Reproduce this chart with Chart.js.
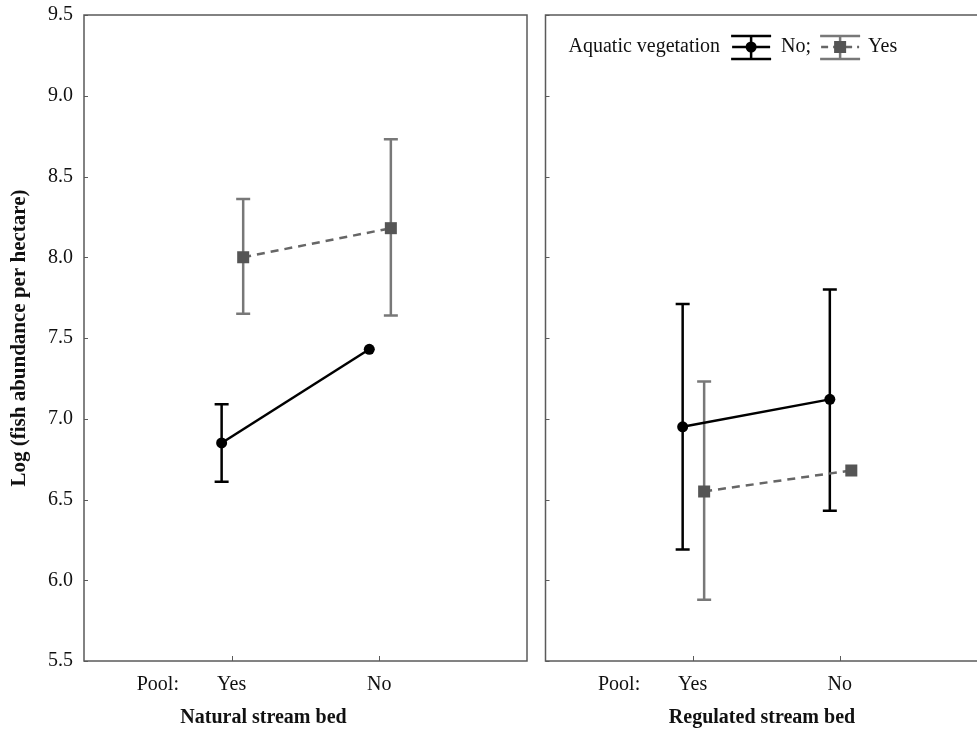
<!DOCTYPE html>
<html>
<head>
<meta charset="utf-8">
<script src="https://cdn.jsdelivr.net/npm/chart.js@4.4.1/dist/chart.umd.min.js"></script>
<style>
  html, body { margin: 0; padding: 0; background: #fff; overflow: hidden; }
  #wrap { position: relative; width: 977px; height: 735px; overflow: hidden; }
  #naturalChart { position: absolute; left: 0; top: 0; }
  #regulatedChart { position: absolute; left: 537px; top: 0; }
</style>
</head>
<body>
<div id="wrap">
  <canvas id="naturalChart" width="537" height="735"></canvas>
  <canvas id="regulatedChart" width="460" height="735"></canvas>
</div>
<script>
// categories / labels
const xTickValues = [0.5, 1, 2];
const xTickLabels = ['Pool:', 'Yes', 'No'];
const panelTitles = ['Natural stream bed', 'Regulated stream bed'];
const yAxisTitle = 'Log (fish abundance per hectare)';
const legendTitle = 'Aquatic vegetation';
const legendLabels = ['No', 'Yes'];

// Natural stream bed (pool Yes, pool No)
const natNoVegMean = [6.85, 7.43];
const natNoVegLow = [6.61, null];
const natNoVegHigh = [7.09, null];
const natVegMean = [8.00, 8.18];
const natVegLow = [7.65, 7.64];
const natVegHigh = [8.36, 8.73];

// Regulated stream bed (pool Yes, pool No)
const regNoVegMean = [6.95, 7.12];
const regNoVegLow = [6.19, 6.43];
const regNoVegHigh = [7.71, 7.80];
const regVegMean = [6.55, 6.68];
const regVegLow = [5.88, null];
const regVegHigh = [7.23, null];

const serif = '"Liberation Serif", "Times New Roman", serif';
Chart.defaults.font.family = serif;
Chart.defaults.color = '#111';

const dodgeNo = -0.068;
const dodgeYes = 0.078;
const grayBar = '#787878';

// error bars drawn under the lines
const errorBars = {
    id: 'errorBars',
    beforeDatasetsDraw(chart) {
        const { ctx, scales: { x, y } } = chart;
        chart.data.datasets.forEach(ds => {
            ctx.save();
            ctx.strokeStyle = ds.barColor;
            ctx.lineWidth = 2.5;
            ds.data.forEach((p, j) => {
                if (ds.low[j] == null) return;
                const px = x.getPixelForValue(p.x);
                const y1 = y.getPixelForValue(ds.low[j]);
                const y2 = y.getPixelForValue(ds.high[j]);
                ctx.beginPath();
                ctx.moveTo(px, y1); ctx.lineTo(px, y2);
                ctx.moveTo(px - 7, y1); ctx.lineTo(px + 7, y1);
                ctx.moveTo(px - 7, y2); ctx.lineTo(px + 7, y2);
                ctx.stroke();
            });
            ctx.restore();
        });
    }
};

// box frame + small inward tick marks
const frame = {
    id: 'frame',
    afterDraw(chart) {
        const { ctx, chartArea: a, scales: { x, y } } = chart;
        ctx.save();
        ctx.strokeStyle = '#5a5a5a';
        ctx.lineWidth = 1;
        ctx.beginPath();
        y.ticks.forEach(t => {
            const py = Math.round(y.getPixelForValue(t.value)) + 0.5;
            ctx.moveTo(a.left, py); ctx.lineTo(a.left + 4, py);
        });
        x.ticks.forEach(t => {
            if (t.label === 'Pool:') return;
            const px = Math.round(x.getPixelForValue(t.value)) + 0.5;
            ctx.moveTo(px, a.bottom); ctx.lineTo(px, a.bottom - 5);
        });
        ctx.stroke();
        ctx.lineWidth = 1.5;
        ctx.strokeRect(a.left, a.top, a.right - a.left, a.bottom - a.top);
        ctx.restore();
    }
};

function legendSymbol(ctx, x, cy, gray) {
    ctx.save();
    ctx.strokeStyle = gray ? grayBar : '#000';
    ctx.lineWidth = 2.5;
    ctx.beginPath();
    ctx.moveTo(x, cy - 11); ctx.lineTo(x + 40, cy - 11);
    ctx.moveTo(x, cy + 12); ctx.lineTo(x + 40, cy + 12);
    ctx.moveTo(x + 20, cy - 11); ctx.lineTo(x + 20, cy + 12);
    ctx.stroke();
    ctx.beginPath();
    if (gray) {
        ctx.strokeStyle = '#666';
        ctx.setLineDash([7, 5]);
    }
    ctx.moveTo(x + 1, cy); ctx.lineTo(x + 39, cy);
    ctx.stroke();
    ctx.setLineDash([]);
    if (gray) {
        ctx.fillStyle = '#555';
        ctx.fillRect(x + 14, cy - 6, 12, 12);
    } else {
        ctx.fillStyle = '#000';
        ctx.beginPath();
        ctx.arc(x + 20, cy, 5.5, 0, Math.PI * 2);
        ctx.fill();
    }
    ctx.restore();
}

const vegLegend = {
    id: 'vegLegend',
    afterDraw(chart) {
        const { ctx, chartArea: a } = chart;
        ctx.save();
        ctx.font = '20px ' + serif;
        ctx.fillStyle = '#111';
        ctx.textBaseline = 'middle';
        const cy = a.top + 32;
        let x = a.left + 23;
        ctx.fillText(legendTitle, x, cy);
        x += ctx.measureText(legendTitle).width + 11;
        legendSymbol(ctx, x, cy, false);
        x += 50;
        const noText = legendLabels[0] + ';';
        ctx.fillText(noText, x, cy);
        x += ctx.measureText(noText).width + 9;
        legendSymbol(ctx, x, cy, true);
        x += 48;
        ctx.fillText(legendLabels[1], x, cy);
        ctx.restore();
    }
};

function makeDatasets(noMean, noLow, noHigh, yesMean, yesLow, yesHigh) {
    return [
        {
            label: legendLabels[0],
            data: noMean.map((v, j) => ({ x: j + 1 + dodgeNo, y: v })),
            low: noLow,
            high: noHigh,
            barColor: '#000',
            showLine: true,
            borderColor: '#000',
            borderWidth: 2.5,
            pointStyle: 'circle',
            pointRadius: 5.5,
            pointBackgroundColor: '#000',
            pointBorderWidth: 0
        },
        {
            label: legendLabels[1],
            data: yesMean.map((v, j) => ({ x: j + 1 + dodgeYes, y: v })),
            low: yesLow,
            high: yesHigh,
            barColor: grayBar,
            showLine: true,
            borderColor: '#666',
            borderDash: [8, 6],
            borderWidth: 2.5,
            pointStyle: 'rect',
            pointRadius: 8.5,
            pointBackgroundColor: '#555',
            pointBorderWidth: 0
        }
    ];
}

function makeChart(canvasId, title, datasets, first) {
    const ctx = document.getElementById(canvasId).getContext('2d');
    return new Chart(ctx, {
        type: 'scatter',
        data: { datasets: datasets },
        plugins: first ? [errorBars, frame] : [errorBars, frame, vegLegend],
        options: {
            responsive: false,
            animation: false,
            layout: { padding: { top: 15, left: 0, right: 10, bottom: 0 } },
            plugins: {
                legend: { display: false },
                tooltip: { enabled: false },
                title: {
                    display: true,
                    position: 'bottom',
                    text: title,
                    color: '#111',
                    font: { size: 20, weight: 'bold' },
                    padding: { top: 1, bottom: 5 }
                }
            },
            scales: {
                x: {
                    type: 'linear',
                    min: 0,
                    max: 3,
                    grid: { display: false, drawTicks: false },
                    border: { display: false },
                    afterBuildTicks: s => { s.ticks = xTickValues.map(v => ({ value: v })); },
                    afterFit: s => { s.height = 44; },
                    ticks: {
                        autoSkip: false,
                        maxRotation: 0,
                        padding: 12,
                        font: { size: 20 },
                        color: '#111',
                        callback: (v, i) => xTickLabels[i]
                    }
                },
                y: {
                    min: 5.5,
                    max: 9.5,
                    grid: { display: false, drawTicks: false },
                    border: { display: false },
                    afterFit: s => {
                        s.width = first ? 84 : 7;
                        s.paddingTop = 0;
                        s.paddingBottom = 0;
                    },
                    ticks: {
                        display: first,
                        stepSize: 0.5,
                        padding: 11,
                        font: { size: 20 },
                        color: '#111',
                        callback: v => v.toFixed(1)
                    },
                    title: {
                        display: first,
                        text: yAxisTitle,
                        color: '#111',
                        font: { size: 21, weight: 'bold' },
                        padding: { top: 7, bottom: 0 }
                    }
                }
            }
        }
    });
}

makeChart('naturalChart', panelTitles[0],
    makeDatasets(natNoVegMean, natNoVegLow, natNoVegHigh, natVegMean, natVegLow, natVegHigh), true);
makeChart('regulatedChart', panelTitles[1],
    makeDatasets(regNoVegMean, regNoVegLow, regNoVegHigh, regVegMean, regVegLow, regVegHigh), false);
</script>
</body>
</html>
